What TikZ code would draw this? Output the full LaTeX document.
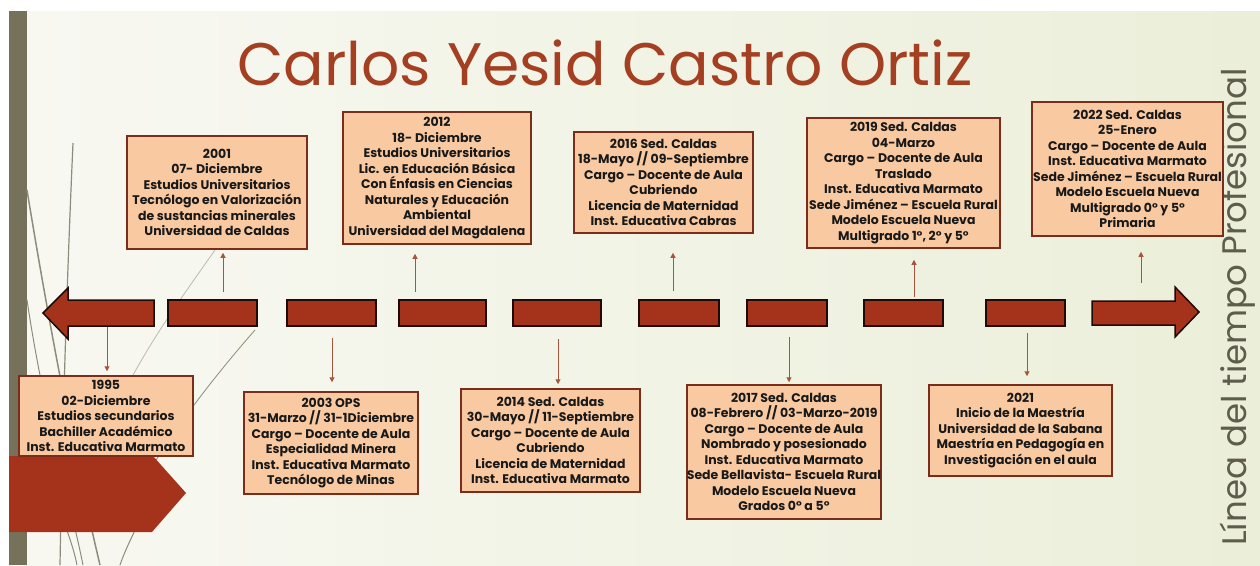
\documentclass[tikz,border=0pt]{standalone}
\usepackage{fontspec}
\setmainfont{Poppins}
\usepackage{xcolor}
\usepackage{tikz}
\usetikzlibrary{calc,arrows.meta}

\definecolor{fondo}{HTML}{F8F8F2}
\definecolor{fondoverde}{HTML}{EBEFD9}
\definecolor{oliva}{HTML}{76715A}
\definecolor{lateral}{HTML}{5E5D4C}
\definecolor{ladrillo}{HTML}{A5331B}
\definecolor{durazno}{HTML}{F9CAA2}
\definecolor{marco}{HTML}{7A2D1B}
\definecolor{titulo}{HTML}{A43F22}
\definecolor{flecha}{HTML}{A9543D}
\definecolor{hierba}{HTML}{8E8C7A}

\begin{document}
\begin{tikzpicture}[x=1pt,
                    y=-1pt,
                    caja/.style={draw=marco,
                                 line width=1.5pt,
                                 fill=durazno,
                                 align=center,
                                 inner sep=0pt,
                                 text=black!90,
                                 font=\fontsize{12.5}{15.5}\selectfont\bfseries
                                 },
                    conn/.style={flecha,
                                 line width=1pt,
                                 -{Triangle[length=5pt,width=5pt]}
                                 },
                    tramo/.style={fill=ladrillo,
                                  draw=black!75!marco,
                                  line width=1.5pt
                                  }
                    ]
  % 背景
  \useasboundingbox (0,0) rectangle (1260,565);
  \fill[white] (0,0) rectangle (1260,565);
  \shade[left color=fondo, right color=fondoverde] (9,11) rectangle (1260,565);
  \fill[oliva] (9,11) rectangle (27,565);

  % 草の線
  \draw[hierba, line width=1.2pt] (73,143) .. controls (66,300) and (62,450) .. (60,565);
  \draw[hierba, line width=1.5pt] (27,190) .. controls (50,330) and (75,460) .. (100,565);
  \draw[hierba, line width=1pt] (27,300) .. controls (45,420) and (70,500) .. (83,565);
  \draw[hierba, line width=1pt] (40,470) .. controls (60,510) and (72,540) .. (77,565);
  \draw[hierba, line width=1pt] (150,500) .. controls (135,530) and (125,550) .. (120,565);
  \draw[hierba!60, line width=0.8pt] (222,240) .. controls (180,300) and (150,340) .. (120,400);
  \draw[hierba, line width=0.8pt] (255,330) .. controls (220,370) and (180,420) .. (150,470);

  % 左下の五角形
  \fill[ladrillo] (9,456) -- (153,456) -- (186,493) -- (152,532) -- (9,532) -- cycle;

  % タイトル
  \node[titulo, font=\fontsize{60}{60}\selectfont, anchor=base] (titulo) at (605,85) {Carlos Yesid Castro Ortiz};
  \node[lateral, font=\fontsize{34}{34}\selectfont, rotate=90, anchor=base] (lado) at (1246,307) {Línea del tiempo Profesional};

  % 時間軸
  \draw[tramo] (154,300) -- (68,300) -- (68,288) -- (43,313) -- (68,339) -- (68,326) -- (154,326) -- cycle;
  \foreach \a/\b in {168/257, 287/376, 399/486, 513/601, 639/719, 747/827, 864/943, 986/1065}
    \draw[tramo] (\a,300) rectangle (\b,326);
  \draw[tramo] (1092,301) -- (1175,301) -- (1175,287) -- (1199,312) -- (1175,337) -- (1175,325) -- (1092,325) -- cycle;

  % 出来事の箱
  \node[caja, minimum width=174pt, minimum height=80pt] (b1995) at (106,416)
    {1995\\02-Diciembre\\Estudios secundarios\\Bachiller Académico\\Inst. Educativa Marmato};
  \node[caja, minimum width=180pt, minimum height=113pt] (b2001) at (217,192.5)
    {2001\\07- Diciembre\\Estudios Universitarios\\Tecnólogo en Valorización\\de sustancias minerales\\Universidad de Caldas};
  \node[caja, minimum width=174pt, minimum height=102pt] (b2003) at (331,443)
    {2003 OPS\\31-Marzo // 31-1Diciembre\\Cargo – Docente de Aula\\Especialidad Minera\\Inst. Educativa Marmato\\Tecnólogo de Minas};
  \node[caja, minimum width=188pt, minimum height=132pt] (b2012) at (437,178)
    {2012\\18- Diciembre\\Estudios Universitarios\\Lic. en Educación Básica\\Con Énfasis en Ciencias\\Naturales y Educación\\Ambiental\\Universidad del Magdalena};
  \node[caja, minimum width=179pt, minimum height=103pt] (b2014) at (550.5,440.5)
    {2014 Sed. Caldas\\30-Mayo // 11-Septiembre\\Cargo – Docente de Aula\\Cubriendo\\Licencia de Maternidad\\Inst. Educativa Marmato};
  \node[caja, minimum width=179pt, minimum height=101pt] (b2016) at (663.5,182.5)
    {2016 Sed. Caldas\\18-Mayo // 09-Septiembre\\Cargo – Docente de Aula\\Cubriendo\\Licencia de Maternidad\\Inst. Educativa Cabras};
  \node[caja, minimum width=194pt, minimum height=134pt] (b2017) at (784,452)
    {2017 Sed. Caldas\\08-Febrero // 03-Marzo-2019\\Cargo – Docente de Aula\\Nombrado y posesionado\\Inst. Educativa Marmato\\Sede Bellavista- Escuela Rural\\Modelo Escuela Nueva\\Grados 0° a 5°};
  \node[caja, minimum width=193pt, minimum height=130pt] (b2019) at (903.5,183)
    {2019 Sed. Caldas\\04-Marzo\\Cargo – Docente de Aula\\Traslado\\Inst. Educativa Marmato\\Sede Jiménez – Escuela Rural\\Modelo Escuela Nueva\\Multigrado 1°, 2° y 5°};
  \node[caja, minimum width=183pt, minimum height=91pt] (b2021) at (1020.5,430.5)
    {2021\\Inicio de la Maestría\\Universidad de la Sabana\\Maestría en Pedagogía en\\Investigación en el aula};
  \node[caja, minimum width=191pt, minimum height=134pt] (b2022) at (1127.5,169)
    {2022 Sed. Caldas\\25-Enero\\Cargo – Docente de Aula\\Inst. Educativa Marmato\\Sede Jiménez – Escuela Rural\\Modelo Escuela Nueva\\Multigrado 0° y 5°\\Primaria};

  % 矢印
  \coordinate (t1995) at (107,327);
  \coordinate (t2001) at (223,292);
  \coordinate (t2003) at (332,338);
  \coordinate (t2012) at (415,292);
  \coordinate (t2014) at (558,339);
  \coordinate (t2016) at (673,291);
  \coordinate (t2017) at (789,337);
  \coordinate (t2019) at (914,297);
  \coordinate (t2021) at (1027,333);
  \coordinate (t2022) at (1141,283);
  \draw[conn, shorten >=4pt] (t1995) -- (t1995 |- b1995.north);
  \draw[conn, shorten >=3pt] (t2001) -- (t2001 |- b2001.south);
  \draw[conn, shorten >=9pt] (t2003) -- (t2003 |- b2003.north);
  \draw[conn, shorten >=9pt] (t2012) -- (t2012 |- b2012.south);
  \draw[conn, shorten >=4pt] (t2014) -- (t2014 |- b2014.north);
  \draw[conn, shorten >=19pt] (t2016) -- (t2016 |- b2016.south);
  \draw[conn, shorten >=2pt] (t2017) -- (t2017 |- b2017.north);
  \draw[conn, shorten >=11pt] (t2019) -- (t2019 |- b2019.south);
  \draw[conn, shorten >=8pt] (t2021) -- (t2021 |- b2021.north);
  \draw[conn, shorten >=15pt] (t2022) -- (t2022 |- b2022.south);
\end{tikzpicture}
\end{document}
